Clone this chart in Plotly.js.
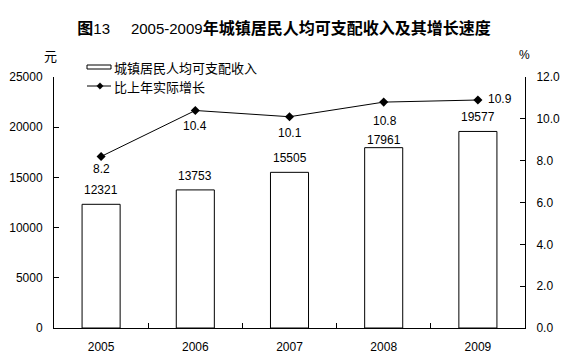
<!DOCTYPE html>
<html>
<head>
<meta charset="utf-8">
<script src="https://cdn.plot.ly/plotly-3.0.1.min.js"></script>
<style>html,body{margin:0;padding:0;background:#fff;}#chart{width:568px;height:362px;}</style>
</head>
<body>
<div id="chart"></div>
<script>
// ---- data ----
var years = ['2005', '2006', '2007', '2008', '2009'];
var income = [12321, 13753, 15505, 17961, 19577];
var growth = [8.2, 10.4, 10.1, 10.8, 10.9];
var incomeName = '城镇居民人均可支配收入';
var growthName = '比上年实际增长';
var leftTicks = [0, 5000, 10000, 15000, 20000, 25000];
var rightTicks = [0, 2, 4, 6, 8, 10, 12];

// ---- layout geometry (pixels) ----
var W = 568, H = 362;
var L = 54, R = 43, T = 77, B = 34;
var pw = W - L - R, ph = H - T - B;
function px(x) { return (x - L) / pw; }
function py(y) { return (H - B - y) / ph; }

var FONT = 'Liberation Sans, Noto Sans CJK SC, sans-serif';
var CJK = 'Noto Sans CJK SC, Liberation Sans, sans-serif';

// label offsets (style)
var barLabelShift = [14, 14, 14, 8, 14];
var lineLabelShiftY = [-13, -16, -16, -19, 1];
var lineLabelShiftX = [0, 0, 0, 1, 8];

var traces = [
  {
    type: 'bar', x: years, y: income, name: incomeName, width: 0.404,
    marker: {color: '#ffffff', line: {color: '#000000', width: 1}},
    showlegend: false, hoverinfo: 'x+y'
  },
  {
    type: 'scatter', mode: 'lines+markers', x: years, y: growth, yaxis: 'y2', name: growthName,
    line: {color: '#000000', width: 1},
    marker: {symbol: 'diamond', size: 7, color: '#000000'},
    showlegend: false
  }
];

var annotations = [];
for (var i = 0; i < years.length; i++) {
  annotations.push({
    x: i, y: income[i], xref: 'x', yref: 'y', text: String(income[i]),
    showarrow: false, yanchor: 'middle', xanchor: 'center', yshift: barLabelShift[i],
    font: {family: FONT, size: 12, color: '#000'}
  });
  var last = (i === years.length - 1);
  annotations.push({
    x: i, y: growth[i], xref: 'x', yref: 'y2', text: growth[i].toFixed(1),
    showarrow: false, yanchor: 'middle', xanchor: last ? 'left' : 'center',
    yshift: lineLabelShiftY[i], xshift: lineLabelShiftX[i],
    font: {family: FONT, size: 12, color: '#000'}
  });
}
annotations.push({x: px(50), y: py(55), xref: 'paper', yref: 'paper', text: '元', showarrow: false,
  xanchor: 'center', yanchor: 'middle', font: {family: CJK, size: 13, color: '#000'}});
annotations.push({x: px(524), y: py(55), xref: 'paper', yref: 'paper', text: '%', showarrow: false,
  xanchor: 'center', yanchor: 'middle', font: {family: FONT, size: 12, color: '#000'}});
// legend text
annotations.push({x: px(112), y: py(67), xref: 'paper', yref: 'paper', text: incomeName, showarrow: false,
  xanchor: 'left', yanchor: 'middle', font: {family: CJK, size: 13, color: '#000'}});
annotations.push({x: px(112), y: py(86), xref: 'paper', yref: 'paper', text: growthName, showarrow: false,
  xanchor: 'left', yanchor: 'middle', font: {family: CJK, size: 13, color: '#000'}});

var d = 3.2;
var shapes = [
  {type: 'rect', xref: 'paper', yref: 'paper', x0: px(87), x1: px(111), y0: py(69), y1: py(65),
   line: {color: '#000', width: 1}, fillcolor: '#fff'},
  {type: 'line', xref: 'paper', yref: 'paper', x0: px(87), x1: px(111), y0: py(86), y1: py(86),
   line: {color: '#000', width: 1}},
  {type: 'path', xref: 'paper', yref: 'paper',
   path: 'M' + px(100 - d) + ',' + py(86) + ' L' + px(100) + ',' + py(86 - d) + ' L' + px(100 + d) + ',' + py(86) + ' L' + px(100) + ',' + py(86 + d) + ' Z',
   line: {color: '#000', width: 0.5}, fillcolor: '#000'}
];

var layout = {
  width: W, height: H,
  margin: {l: L, r: R, t: T, b: B, pad: 0},
  paper_bgcolor: '#fff', plot_bgcolor: '#fff',
  showlegend: false,
  title: {
    text: '<b><span style="font-size:16px">图</span></b>13\u00a0\u00a0\u00a0\u00a0\u00a02005-2009<b><span style="font-size:16px">年城镇居民人均可支配收入及其增长速度</span></b>',
    x: 0.5, xanchor: 'center', y: 1 - 28.5 / H, yanchor: 'middle', xref: 'container', yref: 'container',
    font: {family: FONT, size: 15, color: '#000'}
  },
  font: {family: FONT, size: 12, color: '#000'},
  xaxis: {
    type: 'category', categoryorder: 'array', categoryarray: years, range: [-0.5, years.length - 0.5],
    showline: true, linecolor: '#000', linewidth: 1, mirror: false,
    ticks: 'inside', tickson: 'boundaries', ticklen: 5, tickcolor: '#000', tickwidth: 1,
    showgrid: false, zeroline: false, fixedrange: true, tickangle: 0,
    tickfont: {family: FONT, size: 12, color: '#000'}, ticklabelstandoff: 8
  },
  yaxis: {
    range: [0, 25000], tickvals: leftTicks, ticktext: leftTicks.map(String),
    showline: true, linecolor: '#000', linewidth: 1,
    ticks: 'inside', ticklen: 5, tickcolor: '#000', tickwidth: 1,
    showgrid: false, zeroline: false, fixedrange: true,
    tickfont: {family: FONT, size: 12, color: '#000'}, ticklabelstandoff: 8
  },
  yaxis2: {
    overlaying: 'y', side: 'right', range: [0, 12], tickvals: rightTicks,
    ticktext: rightTicks.map(function (v) { return v.toFixed(1); }),
    showline: true, linecolor: '#000', linewidth: 1,
    ticks: 'inside', ticklen: 5, tickcolor: '#000', tickwidth: 1,
    showgrid: false, zeroline: false, fixedrange: true,
    tickfont: {family: FONT, size: 12, color: '#000'}, ticklabelstandoff: 8
  },
  annotations: annotations,
  shapes: shapes
};

Plotly.newPlot('chart', traces, layout, {displayModeBar: false, staticPlot: true});
</script>
</body>
</html>
